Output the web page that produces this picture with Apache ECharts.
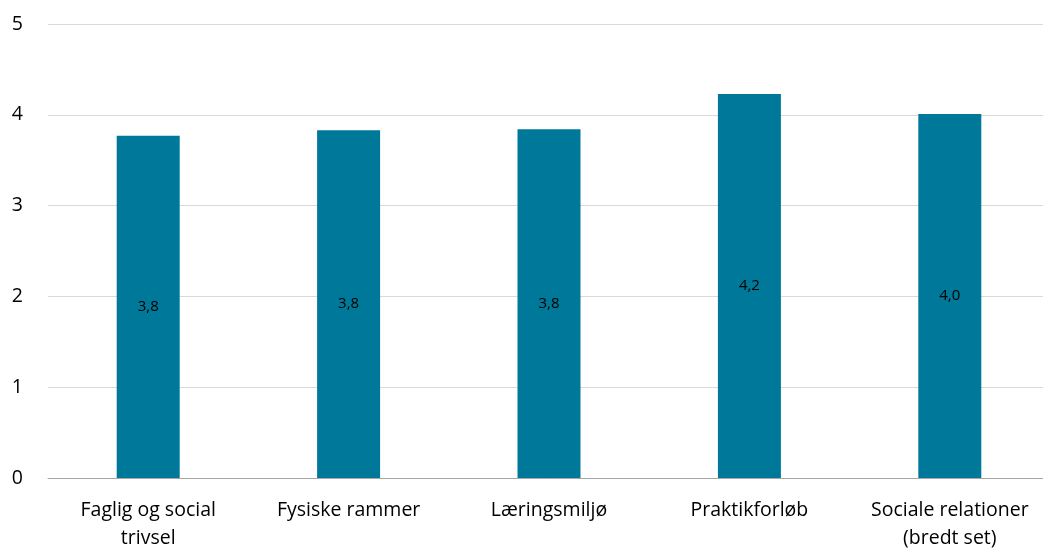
<!DOCTYPE html>
<html>
<head>
<meta charset="utf-8">
<script src="https://cdn.jsdelivr.net/npm/echarts@6/dist/echarts.min.js"></script>
<style>
  html, body { margin: 0; padding: 0; background: #fff; }
  #chart { width: 1043px; height: 548px; }
</style>
</head>
<body>
<div id="chart"></div>
<script>
const categories = ['Faglig og social\ntrivsel', 'Fysiske rammer', 'Læringsmiljø', 'Praktikforløb', 'Sociale relationer\n(bredt set)']
const values = [3.77, 3.83, 3.84, 4.23, 4.01]
const yTicks = [0, 1, 2, 3, 4, 5]

let myChart = echarts.init(document.getElementById('chart'))
myChart.setOption({
  animation: false,
  grid: {
    left: 48,
    right: -7,
    top: 24,
    bottom: 70,
    outerBoundsMode: 'none'
  },
  xAxis: {
    type: 'category',
    data: categories,
    axisTick: { show: false },
    axisLine: { lineStyle: { color: '#a6a6a6', width: 1 } },
    axisLabel: {
      color: '#000',
      fontFamily: 'Open Sans',
      fontSize: 19.5,
      lineHeight: 28,
      margin: 18,
      interval: 0
    }
  },
  yAxis: {
    type: 'value',
    min: yTicks[0],
    max: yTicks[yTicks.length - 1],
    interval: 1,
    axisLine: { show: false },
    axisTick: { show: false },
    splitLine: { lineStyle: { color: '#d9d9d9', width: 1 } },
    axisLabel: {
      color: '#000',
      fontFamily: 'Open Sans',
      fontSize: 19.5,
      margin: 25
    }
  },
  series: [
    {
      type: 'bar',
      data: values,
      barWidth: 63,
      itemStyle: { color: '#007899' },
      label: {
        show: true,
        position: 'inside',
        color: '#000',
        fontFamily: 'Open Sans',
        fontSize: 15,
        formatter: (p) => p.value.toFixed(1).replace('.', ',')
      }
    }
  ]
})
</script>
</body>
</html>
